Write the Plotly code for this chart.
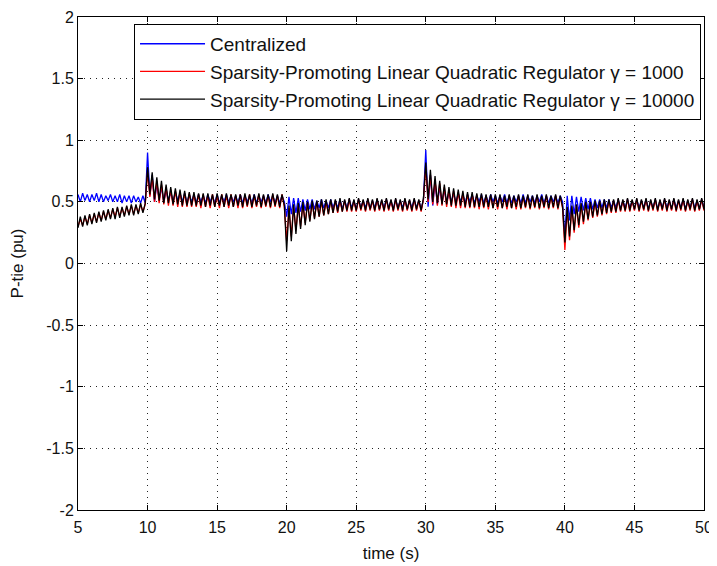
import numpy as np
import plotly.graph_objects as go

# ---- data ----
t_start, t_end = 5, 50

centralized = [
    # 5 - 10 s
    0.56,0.50,0.57,0.51,0.56,0.50,0.56,0.51,0.57,0.50,0.56,0.50,0.55,0.51,0.56,0.50,0.55,0.50,0.56,0.49,0.55,0.50,0.55,0.49,0.55,0.50,0.54,0.49,0.55,0.49,
    # 10 - 20 s
    0.90,0.55,0.72,0.50,0.65,0.52,0.62,0.50,0.60,0.51,0.58,0.50,0.58,0.51,0.57,0.50,0.57,0.49,0.56,0.50,
    0.56,0.49,0.56,0.50,0.55,0.49,0.56,0.50,0.55,0.49,0.56,0.49,0.55,0.50,0.56,0.49,0.55,0.50,0.55,0.49,
    0.56,0.49,0.55,0.50,0.55,0.49,0.56,0.49,0.55,0.50,0.55,0.49,0.56,0.50,0.55,0.49,0.55,0.49,0.55,0.50,
    # 20 - 30 s
    0.38,0.54,0.40,0.53,0.41,0.53,0.42,0.52,0.43,0.52,0.44,0.52,0.44,0.51,0.45,0.52,0.45,0.51,0.45,0.52,
    0.45,0.51,0.45,0.52,0.44,0.51,0.45,0.52,0.45,0.51,0.44,0.52,0.45,0.51,0.45,0.52,0.44,0.51,0.45,0.52,
    0.44,0.51,0.45,0.52,0.45,0.51,0.44,0.52,0.45,0.51,0.45,0.52,0.44,0.51,0.45,0.52,0.45,0.51,0.44,0.52,
    # 30 - 40 s
    0.92,0.46,0.72,0.47,0.66,0.48,0.62,0.49,0.60,0.49,0.58,0.50,0.57,0.49,0.57,0.50,0.56,0.49,0.56,0.50,
    0.56,0.49,0.55,0.50,0.56,0.49,0.55,0.49,0.56,0.50,0.55,0.49,0.55,0.50,0.56,0.49,0.55,0.49,0.55,0.50,
    0.55,0.49,0.56,0.49,0.55,0.50,0.55,0.49,0.55,0.50,0.56,0.49,0.55,0.49,0.55,0.50,0.55,0.49,0.55,0.50,
    # 40 - 50 s
    0.22,0.55,0.35,0.55,0.40,0.54,0.42,0.54,0.43,0.53,0.44,0.53,0.44,0.52,0.45,0.52,0.45,0.52,0.45,0.52,
    0.45,0.51,0.45,0.52,0.44,0.51,0.45,0.52,0.45,0.51,0.44,0.52,0.45,0.51,0.45,0.52,0.44,0.51,0.45,0.52,
    0.44,0.51,0.45,0.52,0.45,0.51,0.44,0.52,0.45,0.51,0.45,0.52,0.44,0.51,0.45,0.52,0.45,0.51,0.44,0.52,0.45,
]

splqr_1000 = [
    # 5 - 10 s
    0.30,0.36,0.31,0.38,0.32,0.39,0.33,0.40,0.34,0.41,0.35,0.42,0.36,0.43,0.37,0.44,0.38,0.45,0.38,0.45,0.39,0.46,0.40,0.47,0.40,0.47,0.41,0.48,0.42,0.48,
    # 10 - 20 s
    0.74,0.54,0.70,0.50,0.67,0.49,0.64,0.48,0.62,0.47,0.60,0.47,0.59,0.46,0.58,0.46,0.57,0.46,0.57,0.46,
    0.56,0.46,0.56,0.45,0.56,0.46,0.55,0.45,0.56,0.46,0.55,0.45,0.56,0.46,0.55,0.45,0.56,0.46,0.55,0.45,
    0.56,0.45,0.55,0.46,0.56,0.45,0.55,0.46,0.56,0.45,0.55,0.46,0.55,0.45,0.56,0.46,0.55,0.45,0.56,0.46,
    # 20 - 30 s
    0.18,0.45,0.22,0.46,0.27,0.47,0.30,0.48,0.33,0.49,0.35,0.49,0.37,0.50,0.38,0.50,0.39,0.50,0.40,0.51,
    0.41,0.51,0.41,0.51,0.42,0.51,0.42,0.52,0.42,0.51,0.42,0.52,0.43,0.51,0.42,0.52,0.43,0.51,0.42,0.52,
    0.43,0.51,0.42,0.52,0.43,0.51,0.42,0.52,0.43,0.51,0.42,0.52,0.43,0.51,0.42,0.52,0.43,0.51,0.42,0.52,
    # 30 - 40 s
    0.78,0.50,0.72,0.48,0.68,0.47,0.65,0.47,0.62,0.46,0.60,0.46,0.59,0.45,0.58,0.45,0.57,0.45,0.56,0.45,
    0.56,0.45,0.56,0.44,0.55,0.45,0.55,0.44,0.55,0.45,0.54,0.44,0.55,0.45,0.54,0.44,0.55,0.45,0.54,0.44,
    0.55,0.44,0.54,0.45,0.55,0.44,0.54,0.45,0.55,0.44,0.54,0.45,0.55,0.44,0.54,0.45,0.55,0.44,0.54,0.45,
    # 40 - 50 s
    0.11,0.44,0.19,0.46,0.25,0.47,0.29,0.48,0.32,0.49,0.35,0.49,0.37,0.50,0.38,0.50,0.39,0.51,0.40,0.51,
    0.41,0.51,0.41,0.52,0.42,0.51,0.42,0.52,0.42,0.51,0.43,0.52,0.42,0.51,0.43,0.52,0.42,0.51,0.43,0.52,
    0.42,0.51,0.43,0.52,0.42,0.51,0.43,0.52,0.42,0.51,0.43,0.52,0.42,0.51,0.43,0.52,0.42,0.51,0.43,0.52,0.43,
]

splqr_10000 = [
    # 5 - 10 s
    0.29,0.38,0.30,0.39,0.31,0.40,0.32,0.41,0.33,0.42,0.34,0.43,0.35,0.44,0.36,0.45,0.36,0.46,0.37,0.46,0.38,0.47,0.39,0.48,0.39,0.48,0.40,0.49,0.41,0.49,
    # 10 - 20 s
    0.78,0.56,0.74,0.52,0.70,0.51,0.67,0.49,0.64,0.49,0.62,0.48,0.61,0.48,0.60,0.47,0.59,0.47,0.58,0.47,
    0.58,0.47,0.57,0.47,0.57,0.46,0.57,0.47,0.56,0.46,0.57,0.47,0.56,0.46,0.57,0.47,0.56,0.46,0.56,0.47,
    0.56,0.46,0.57,0.47,0.56,0.46,0.56,0.47,0.57,0.46,0.56,0.47,0.56,0.46,0.57,0.47,0.56,0.46,0.56,0.47,
    # 20 - 30 s
    0.10,0.47,0.18,0.48,0.24,0.49,0.28,0.50,0.31,0.50,0.34,0.51,0.36,0.51,0.38,0.52,0.39,0.52,0.40,0.52,
    0.41,0.52,0.42,0.53,0.42,0.52,0.43,0.53,0.43,0.52,0.43,0.53,0.44,0.52,0.43,0.53,0.44,0.52,0.43,0.53,
    0.44,0.52,0.43,0.53,0.44,0.52,0.43,0.53,0.44,0.52,0.43,0.53,0.44,0.52,0.43,0.53,0.44,0.52,0.43,0.53,
    # 30 - 40 s
    0.82,0.52,0.76,0.50,0.71,0.49,0.67,0.48,0.64,0.48,0.62,0.47,0.61,0.47,0.60,0.47,0.59,0.46,0.58,0.46,
    0.58,0.46,0.57,0.46,0.57,0.46,0.56,0.46,0.56,0.45,0.56,0.46,0.56,0.45,0.55,0.46,0.56,0.45,0.55,0.46,
    0.56,0.45,0.55,0.46,0.56,0.45,0.55,0.46,0.56,0.45,0.55,0.46,0.56,0.45,0.55,0.46,0.56,0.45,0.55,0.46,
    # 40 - 50 s
    0.17,0.46,0.22,0.47,0.27,0.48,0.31,0.49,0.34,0.50,0.36,0.50,0.38,0.51,0.39,0.51,0.40,0.52,0.41,0.52,
    0.42,0.52,0.42,0.53,0.43,0.52,0.43,0.53,0.43,0.52,0.44,0.53,0.43,0.52,0.44,0.53,0.43,0.52,0.44,0.53,
    0.43,0.52,0.44,0.53,0.43,0.52,0.44,0.53,0.43,0.52,0.44,0.53,0.43,0.52,0.44,0.53,0.43,0.52,0.44,0.53,0.44,
]

series_names = [
    "Centralized",
    "Sparsity-Promoting Linear Quadratic Regulator \u03b3 = 1000",
    "Sparsity-Promoting Linear Quadratic Regulator \u03b3 = 10000",
]
series_colors = ["#0000ff", "#ff0000", "#000000"]

x_tick_vals = [5, 10, 15, 20, 25, 30, 35, 40, 45, 50]
y_tick_vals = [-2, -1.5, -1, -0.5, 0, 0.5, 1, 1.5, 2]
y_tick_text = ["-2", "-1.5", "-1", "-0.5", "0", "0.5", "1", "1.5", "2"]

for s in (centralized, splqr_1000, splqr_10000):
    assert len(s) == 271, len(s)

fig = go.Figure()
for i, (name, vals, col) in enumerate(zip(series_names,
                                          [centralized, splqr_1000, splqr_10000],
                                          series_colors)):
    t = np.linspace(t_start, t_end, len(vals))
    fig.add_trace(go.Scatter(x=t, y=vals, mode="lines", name=name,
                             line=dict(color=col, width=1.3)))

font_family = "Liberation Sans, Arial, sans-serif"
axis_common = dict(
    showline=True, linecolor="black", linewidth=1, mirror="allticks",
    ticks="inside", ticklen=5, tickcolor="black", tickwidth=1,
    showgrid=True, gridcolor="#222222", gridwidth=1, griddash="1px,5px",
    zeroline=False, automargin=False,
    tickfont=dict(family=font_family, size=16, color="#111"),
)

# the page body has an 8px margin, so the figure is sized to fit the 717x566 window
fig.update_layout(
    width=709, height=558,
    margin=dict(l=70, r=13, t=9, b=56),
    paper_bgcolor="white", plot_bgcolor="white",
    font=dict(family=font_family, color="#111"),
    xaxis=dict(range=[5, 50], tickvals=x_tick_vals, ticklabelstandoff=3,
               title=dict(text="time (s)", font=dict(size=17), standoff=11),
               **axis_common),
    yaxis=dict(range=[-2, 2], tickvals=y_tick_vals, ticktext=y_tick_text,
               title=dict(text="P-tie (pu)", font=dict(size=17), standoff=19),
               **axis_common),
    legend=dict(x=0.0895, y=0.986, xanchor="left", yanchor="top",
                bgcolor="white", bordercolor="black", borderwidth=1,
                font=dict(family=font_family, size=19, color="#111"),
                itemwidth=65, traceorder="normal"),
    showlegend=True,
)

fig.write_html("out.html")
